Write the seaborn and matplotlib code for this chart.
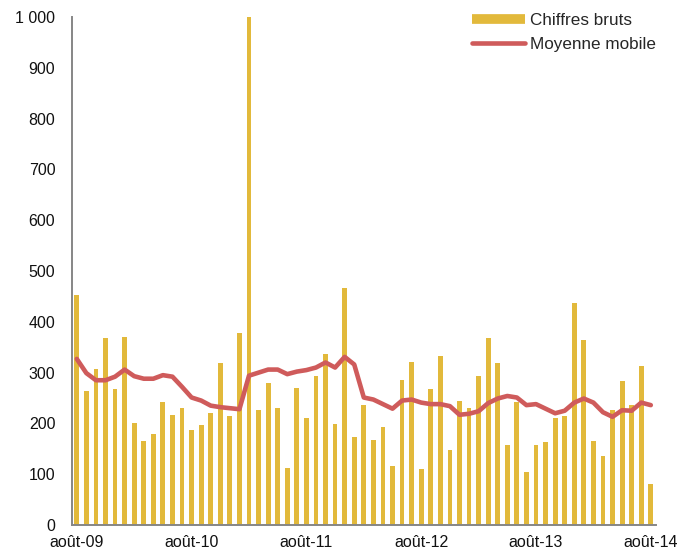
import numpy as np
import pandas as pd
import matplotlib
matplotlib.use("Agg")
import matplotlib.pyplot as plt
from matplotlib.lines import Line2D
import seaborn as sns

# Data (monthly, août-09 .. août-14)
raw_values = [453, 264, 308, 368, 267, 371, 200, 166, 179, 242,
              217, 230, 188, 197, 220, 318, 214, 378, 1000, 226,
              280, 230, 113, 270, 211, 293, 336, 198, 466, 173,
              236, 167, 192, 116, 286, 321, 110, 267, 333, 148,
              245, 230, 293, 368, 318, 157, 242, 104, 157, 163,
              211, 214, 437, 365, 166, 135, 226, 283, 236, 314, 81]
moving_avg = [327, 299, 285, 285, 292, 306, 293, 288, 288, 295,
              292, 272, 251, 245, 235, 232, 230, 228, 294, 300,
              306, 306, 297, 302, 305, 310, 320, 310, 331, 316,
              251, 247, 238, 229, 245, 247, 241, 238, 238, 234,
              217, 219, 224, 240, 249, 254, 251, 236, 238, 229,
              220, 225, 241, 249, 241, 222, 213, 226, 225, 241, 236]
tick_labels = ["août-09", "août-10", "août-11", "août-12", "août-13", "août-14"]
y_ticks = [0, 100, 200, 300, 400, 500, 600, 700, 800, 900, 1000]

BAR_COLOR = "#E2B93B"
LINE_COLOR = "#CF5B5B"
AXIS_COLOR = "#868686"

sns.set_theme(style="white")
plt.rcParams["font.family"] = ["Liberation Sans", "DejaVu Sans"]

n = len(raw_values)
df = pd.DataFrame({"idx": np.arange(n), "raw": raw_values, "ma": moving_avg})

fig = plt.figure(figsize=(6.95, 5.54), dpi=100)
ax = fig.add_axes([0.1036, 0.0523, 0.8397, 0.9170])

sns.barplot(data=df, x="idx", y="raw", color=BAR_COLOR, width=0.5,
            saturation=1, ax=ax, linewidth=0, edgecolor="none")
sns.lineplot(data=df, x="idx", y="ma", color=LINE_COLOR, linewidth=3.3,
             ax=ax, solid_joinstyle="round", solid_capstyle="round")

ax.set_xlim(-0.5, n - 0.5)
ax.set_ylim(0, 1000)
ax.set_xlabel("")
ax.set_ylabel("")

# x: major ticks at category boundaries, labels at category centres
major_pos = [12 * i - 0.5 for i in range(len(tick_labels))]
minor_pos = [12 * i for i in range(len(tick_labels))]
ax.set_xticks(major_pos)
ax.set_xticklabels([""] * len(major_pos))
ax.set_xticks(minor_pos, minor=True)
ax.set_xticklabels(tick_labels, minor=True)
ax.tick_params(axis="x", which="major", direction="out", length=5, width=1.3,
               color=AXIS_COLOR)
ax.tick_params(axis="x", which="minor", length=0, pad=7, labelsize=11.5,
               labelcolor="#111111")

ax.set_yticks(y_ticks)
ax.set_yticklabels([f"{v:,}".replace(",", " ") for v in y_ticks])
ax.tick_params(axis="y", direction="inout", length=10, width=1.3,
               color=AXIS_COLOR, labelsize=11.5, labelcolor="#111111", pad=7)

for s in ["top", "right"]:
    ax.spines[s].set_visible(False)
for s in ["left", "bottom"]:
    ax.spines[s].set_color(AXIS_COLOR)
    ax.spines[s].set_linewidth(1.4)
ax.grid(False)

handles = [Line2D([0], [0], color=BAR_COLOR, linewidth=7, solid_capstyle="butt"),
           Line2D([0], [0], color=LINE_COLOR, linewidth=3.3, solid_capstyle="round")]
ax.legend(handles, ["Chiffres bruts", "Moyenne mobile"], loc="upper right",
          bbox_to_anchor=(1.013, 1.022), frameon=False, fontsize=12.3,
          handlelength=3.1, handletextpad=0.3, labelspacing=0.52,
          borderaxespad=0.0)

fig.savefig("out.png", dpi=100)
